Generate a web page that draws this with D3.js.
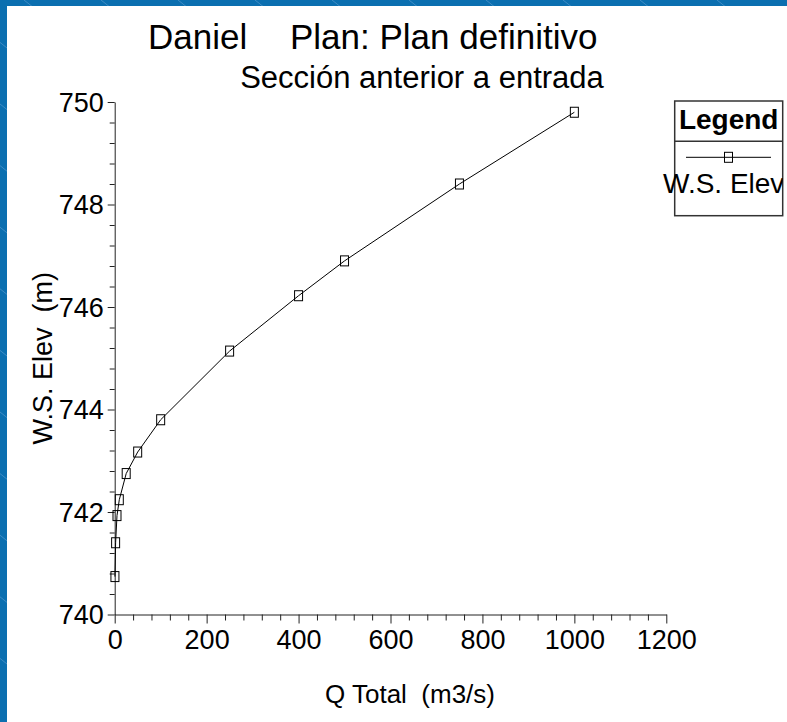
<!DOCTYPE html>
<html>
<head>
<meta charset="utf-8">
<script src="https://cdn.jsdelivr.net/npm/d3@7"></script>
<style>
  html, body { margin: 0; padding: 0; background: #ffffff; }
  svg { display: block; font-family: "Liberation Sans", Arial, sans-serif; }
  text { white-space: pre; }
</style>
</head>
<body>
<svg id="chart" width="787" height="722"></svg>
<script>
// Rating curve: total discharge vs water-surface elevation
const flows  = [0.5, 2, 5, 10, 25, 50, 100, 250, 400, 500, 750, 1000];
const wsElev = [740.74, 741.40, 741.93, 742.24, 742.75, 743.17, 743.80, 745.14, 746.22, 746.90, 748.40, 749.80];

const xMajorTicks = [0, 200, 400, 600, 800, 1000, 1200];
const yMajorTicks = [740, 742, 744, 746, 748, 750];
const xMinorStep = 40;
const yMinorStep = 0.4;

const titleLeft  = "Daniel";
const titleRight = "Plan: Plan definitivo";
const subtitle   = "Sección anterior a entrada";
const xTitle     = "Q Total  (m3/s)";
const yTitle     = "W.S. Elev  (m)";
const legendTitle = "Legend";
const seriesName  = "W.S. Elev";

const W = 787, H = 722;
const svg = d3.select("#chart");

// Frame: blue background with faint diagonal streaks, white page on top
const defs = svg.append("defs");
svg.append("rect").attr("width", W).attr("height", H).attr("fill", "#0b6fb0");
const streaks = svg.append("g").attr("stroke", "#6aa6d6").attr("stroke-width", 1).attr("opacity", 0.55);
for (let c = -900; c < W + 200; c += 77) {
  streaks.append("line")
    .attr("x1", c).attr("y1", 0)
    .attr("x2", c + 900).attr("y2", 900 * 0.8);
}
svg.append("rect").attr("x", 7).attr("y", 6).attr("width", W - 7).attr("height", H - 6).attr("fill", "#ffffff");

// Scales
const x = d3.scaleLinear().domain([0, 1200]).range([114.7, 666.3]);
const y = d3.scaleLinear().domain([740, 750]).range([614.5, 102]);

const fontTick = 27;

// X axis: major and minor ticks
const xMinor = d3.range(0, 1200 + 1e-9, xMinorStep).filter(v => !xMajorTicks.includes(v));
const gx = svg.append("g").attr("transform", `translate(0,${y(740)})`);
gx.call(d3.axisBottom(x).tickValues(xMinor).tickSize(6).tickFormat("").tickSizeOuter(0));
gx.call(g => g.select(".domain").remove());
const gxMaj = svg.append("g").attr("transform", `translate(0,${y(740)})`);
gxMaj.call(d3.axisBottom(x).tickValues(xMajorTicks).tickSize(9).tickSizeOuter(0).tickPadding(6).tickFormat(d3.format("d")));
gxMaj.selectAll("text").attr("font-size", fontTick).attr("fill", "#000")
  .attr("font-family", "Liberation Sans, Arial, sans-serif").attr("dy", "0.72em");

// Y axis: major and minor ticks
const yMinor = d3.range(740, 750 + 1e-9, yMinorStep).map(v => +v.toFixed(1)).filter(v => !yMajorTicks.includes(v));
const gy = svg.append("g").attr("transform", `translate(${x(0)},0)`);
gy.call(d3.axisLeft(y).tickValues(yMinor).tickSize(5).tickFormat("").tickSizeOuter(0));
gy.call(g => g.select(".domain").remove());
const gyMaj = svg.append("g").attr("transform", `translate(${x(0)},0)`);
gyMaj.call(d3.axisLeft(y).tickValues(yMajorTicks).tickSize(7).tickSizeOuter(0).tickPadding(4).tickFormat(d3.format("d")));
gyMaj.selectAll("text").attr("font-size", fontTick).attr("fill", "#000")
  .attr("font-family", "Liberation Sans, Arial, sans-serif").attr("dy", "0.35em");

svg.selectAll(".tick line").attr("stroke", "#222");
svg.selectAll(".domain").attr("stroke", "#222");

// Titles
svg.append("text").attr("x", 148).attr("y", 48.5).attr("font-size", 35).text(titleLeft);
svg.append("text").attr("x", 290).attr("y", 48.5).attr("font-size", 35).text(titleRight);
svg.append("text").attr("x", 422).attr("y", 87.5).attr("text-anchor", "middle").attr("font-size", 31).text(subtitle);

// Axis titles
svg.append("text").attr("x", 410).attr("y", 703).attr("text-anchor", "middle").attr("font-size", 26).text(xTitle);
svg.append("text").attr("transform", `translate(52,${(y(740) + y(750)) / 2}) rotate(-90)`)
  .attr("text-anchor", "middle").attr("font-size", 27).text(yTitle);

// Series line and markers
const pts = flows.map((q, i) => [q, wsElev[i]]);
svg.append("path")
  .datum(pts)
  .attr("fill", "none").attr("stroke", "#000").attr("stroke-width", 1)
  .attr("d", d3.line().x(d => x(d[0])).y(d => y(d[1])));

const mW = 8, mH = 10;
svg.append("g").selectAll("rect").data(pts).join("rect")
  .attr("x", d => x(d[0]) - mW / 2).attr("y", d => y(d[1]) - mH / 2)
  .attr("width", mW).attr("height", mH)
  .attr("fill", "none").attr("stroke", "#000").attr("stroke-width", 1);

// Legend
const lg = { x: 674.7, y: 101, w: 108, h: 114.7, div: 141.3 };
defs.append("clipPath").attr("id", "legendClip")
  .append("rect").attr("x", 0).attr("y", lg.y).attr("width", lg.x + lg.w).attr("height", lg.h);
svg.append("rect").attr("x", lg.x).attr("y", lg.y).attr("width", lg.w).attr("height", lg.h)
  .attr("fill", "#fff").attr("stroke", "#333").attr("stroke-width", 1.5);
svg.append("line").attr("x1", lg.x).attr("x2", lg.x + lg.w).attr("y1", lg.div).attr("y2", lg.div)
  .attr("stroke", "#333").attr("stroke-width", 1.5);
svg.append("text").attr("x", lg.x + lg.w / 2).attr("y", 129.3).attr("text-anchor", "middle")
  .attr("font-size", 28).attr("font-weight", "bold").text(legendTitle);
svg.append("line").attr("x1", 686).attr("x2", 771).attr("y1", 157.3).attr("y2", 157.3)
  .attr("stroke", "#000").attr("stroke-width", 1);
svg.append("rect").attr("x", 728.5 - mW / 2).attr("y", 157.3 - mH / 2).attr("width", mW).attr("height", mH)
  .attr("fill", "none").attr("stroke", "#000").attr("stroke-width", 1);
svg.append("text").attr("x", 663).attr("y", 193.3).attr("font-size", 28)
  .attr("clip-path", "url(#legendClip)").text(seriesName);
</script>
</body>
</html>
